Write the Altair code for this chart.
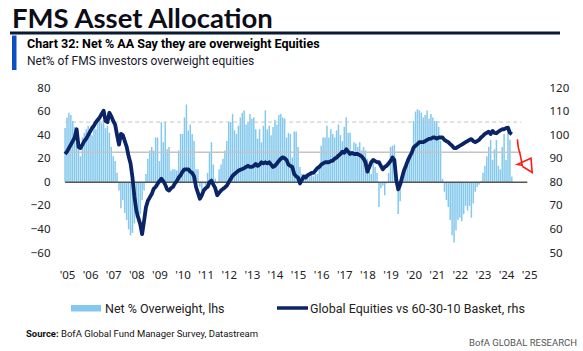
import altair as alt
import pandas as pd

# ---------------- data (monthly, Dec 2004 .. Apr 2024 as positioned on the picture) ----------------
first_year = 2004
first_month = 12

net_overweight = [
    46,                                                     # 2004 Dec
    55, 59, 57, 52, 47, 40, 30, 22, 38, 42, 45, 48,         # 2005
    44, 40, 48, 45, 52, 57, 50, 53, 46, 48, 42, 30,         # 2006
    22, 18, 8, -7, -22, -15, -26, -32, -40, -45, -43, -35,  # 2007
    -30, -34, -27, -15, -7, 7, 20, 27, 30, 27, 38, 38,      # 2008
    18, 51, 34, 51, 28, 30, 10, 11, 11, 10, 27, 41,         # 2009
    41, 55, 66, 44, 49, 41, 35, 11, 11, -4, -7, -1,         # 2010
    -3, 8, 25, 34, 15, 3, -1, 11, 15, 20, 27, 35,           # 2011
    51, 51, 58, 44, 41, 48, 55, 59, 61, 49, 51, 58,         # 2012
    54, 55, 45, 37, 45, 34, 48, 61, 45, 48, 40, 47,         # 2013
    53, 49, 57, 58, 55, 54, 38, 42, 41, 21, 43, 43,         # 2014
    30, 13, 7, 5, 7, 3, 5, 8, 5, 7, 7, 15,                  # 2015
    31, 38, 38, 48, 38, 45, 41, 38, 44, 49, 40, 35,         # 2016
    47, 55, 42, 42, 25, 34, 33, 30, 34, 27, 30, 27,         # 2017
    20, 13, 7, 17, 13, 8, -21, -5, -3, -11, -1, 8,          # 2018
    30, 31, 32, 10, -27, -16, 5, 8, 13, 15, 21, 27,         # 2019
    52, 60, 62, 61, 59, 55, 57, 61, 54, 58, 55, 52,         # 2020
    52, 47, 35, 3, -8, -15, -21, -32, -45, -51, -41, -32,   # 2021
    -30, -33, -27, -20, -24, -20, -30, -18, -8, -4, -2, 1,  # 2022
    8, 14, 22, 30, 36, 19, 28, 36, 14, 11, 30, 41,          # 2023
    19, 44, 36, 5,                                          # 2024
]

equities_vs_basket = [
    92,                                                                     # 2004 Dec
    93, 94.5, 96, 97.5, 99, 102.5, 95, 94.5, 96, 97.5, 98.5, 100,           # 2005
    101.5, 103, 104, 105.5, 106.5, 107.5, 109, 110.4, 106, 105.5, 109.5, 108,  # 2006
    106, 104.5, 100, 96, 100.5, 100, 97.5, 95, 91, 88, 82, 74,              # 2007
    68, 65, 62.3, 58, 63.5, 69.4, 72.2, 73.6, 75, 77.2, 78, 79.3,           # 2008
    80.5, 81.5, 80.5, 79, 77, 76.5, 77.5, 78, 79.5, 80.5, 82, 83,           # 2009
    84.5, 85.5, 85.5, 85.5, 84.5, 84, 82.5, 78, 75.5, 73, 74.5, 76.5,       # 2010
    77.5, 78, 80, 80.7, 79, 77.5, 74.5, 75.5, 76.5, 77.2, 77.8, 78.6,       # 2011
    80, 81.4, 82.8, 83.5, 84.2, 84.9, 85.3, 85.6, 86, 86.5, 87, 86.5,       # 2012
    86.5, 87, 87.8, 87, 87.5, 88.5, 88, 88.5, 88, 88.5, 87.5, 86.5,         # 2013
    87, 88, 89, 90, 90.6, 90.2, 89.5, 87.5, 87, 86.5, 83.5, 82.5,           # 2014
    82, 79.5, 81, 82.5, 82, 83, 83.5, 84, 84, 85, 86, 86.5,                 # 2015
    87.5, 88, 88.5, 88.5, 88.5, 89, 89.2, 90, 90.5, 91.3, 92, 93,           # 2016
    92.5, 94, 93, 92, 92.5, 92, 92, 92, 91.5, 91, 90, 88.5,                 # 2017
    84.5, 86.5, 88.5, 89.5, 89, 88.5, 88.5, 87, 85.5, 86.5, 87, 88,         # 2018
    89, 90.5, 89.5, 81, 77, 79, 82, 85, 87, 89.2, 91, 92.5,                 # 2019
    94.8, 95.5, 96.2, 97, 97, 97, 97.5, 98, 98.4, 98.5, 99, 99,             # 2020
    98.5, 99, 99, 99, 98, 97.5, 97, 96.2, 95.5, 94.5, 94.5, 95,             # 2021
    95.5, 96, 96.5, 97, 97.5, 98, 98.3, 97.5, 97, 97.5, 98, 99,             # 2022
    99.7, 100.5, 101, 101.5, 100.5, 101.8, 101, 100.8, 101.5, 102, 102.5, 102.5,  # 2023
    103, 103.2, 101, 100.4,                                                 # 2024
]

# reference lines on the lhs scale: level, start, end
ref_levels = [0, 25.4, 51.1]
ref_starts = [2004.92, 2004.92, 2004.92]
ref_ends = [2024.92, 2024.66, 2024.66]

# red hand-drawn arrow (decimal year, rhs value)
arrow_x = [2024.49, 2024.53, 2024.62, 2024.70, 2024.49, 2025.08, 2025.13, 2024.70]
arrow_y = [98.2, 94.8, 91.4, 87.2, 87.6, 90.2, 84.2, 86.8]

year_ticks = list(range(2005, 2026))
lhs_ticks = [-60, -40, -20, 0, 20, 40, 60, 80]
rhs_ticks = [50, 60, 70, 80, 90, 100, 110, 120]

# ---------------- layout ----------------
PL, PT = 59, 88           # plot origin in page pixels
W, H = 477, 165
FONT = "Noto Sans"
SMALL = "Roboto"

t0 = first_year + (first_month - 1) / 12
df = pd.DataFrame({
    "t": [t0 + i / 12 for i in range(len(net_overweight))],
    "ow": net_overweight,
    "eq": equities_vs_basket,
})
ref_df = pd.DataFrame({"lvl": ref_levels, "a": ref_starts, "b": ref_ends})
arrow_df = pd.DataFrame({"t": arrow_x, "v": arrow_y, "i": list(range(len(arrow_x)))})

xscale = alt.Scale(domain=[2004.87, 2025.08], nice=False, zero=False)
lscale = alt.Scale(domain=[-60, 80], nice=False, zero=False)
rscale = alt.Scale(domain=[50, 120], nice=False, zero=False)

x_axis = alt.Axis(values=year_ticks, format="d", labelExpr="\"'\" + substring(datum.label, 2)",
                  domain=False, ticks=False, grid=False, labelPadding=16, labelFontSize=11.5,
                  labelFont=FONT, labelColor="#222", title=None, labelFlush=False)
l_axis = alt.Axis(values=lhs_ticks, domain=False, ticks=False, grid=False, orient="left",
                  labelPadding=9, labelFontSize=11.5, labelFont=FONT, labelColor="#222", title=None)
r_axis = alt.Axis(values=rhs_ticks, domain=False, ticks=False, grid=False, orient="right",
                  labelPadding=13, labelFontSize=11.5, labelFont=FONT, labelColor="#222", title=None)

bars = alt.Chart(df).mark_bar(size=1.5, color="#84c9ed").encode(
    x=alt.X("t:Q", scale=xscale, axis=x_axis),
    y=alt.Y("ow:Q", scale=lscale, axis=l_axis),
)


def ref_rule(idx, color, width, dash=None):
    kw = dict(color=color, strokeWidth=width)
    if dash:
        kw["strokeDash"] = dash
    return alt.Chart(ref_df.iloc[[idx]]).mark_rule(**kw).encode(
        x=alt.X("a:Q", scale=xscale, axis=x_axis), x2="b:Q",
        y=alt.Y("lvl:Q", scale=lscale, axis=l_axis))


left = alt.layer(bars, ref_rule(1, "#c4c4c4", 1.5), ref_rule(2, "#c4c4c4", 1, [4, 3]),
                 ref_rule(0, "#555555", 1.6))

line = alt.Chart(df).mark_line(color="#0b2466", strokeWidth=3.8, strokeJoin="round").encode(
    x=alt.X("t:Q", scale=xscale, axis=x_axis),
    y=alt.Y("eq:Q", scale=rscale, axis=r_axis),
)
arrow = alt.Chart(arrow_df).mark_line(color="#ff1a1a", strokeWidth=1.6).encode(
    x=alt.X("t:Q", scale=xscale, axis=x_axis),
    y=alt.Y("v:Q", scale=rscale, axis=r_axis),
    order="i:Q",
)
right = alt.layer(line, arrow)


def label(txt, x, y, size, weight="normal", color="#111", font=FONT, align="left", baseline="alphabetic"):
    return alt.Chart(pd.DataFrame({"s": [txt]})).mark_text(
        align=align, baseline=baseline, fontSize=size, fontWeight=weight, color=color, font=font
    ).encode(x=alt.value(x - PL), y=alt.value(y - PT), text="s:N")


def box(x1, x2, y1, y2, color):
    return alt.Chart(pd.DataFrame({"s": [0]})).mark_rect(color=color).encode(
        x=alt.value(x1 - PL), x2=alt.value(x2 - PL), y=alt.value(y1 - PT), y2=alt.value(y2 - PT))


def hline(x1, x2, y, color, width):
    return alt.Chart(pd.DataFrame({"s": [0]})).mark_rule(color=color, strokeWidth=width).encode(
        x=alt.value(x1 - PL), x2=alt.value(x2 - PL), y=alt.value(y - PT))


decor = [
    label("FMS Asset Allocation", 12, 27.5, 27.5, "bold", "#0d0d18", "Lato"),
    hline(10, 560, 33, "#0b1a33", 3),
    box(12, 16.5, 35.5, 70, "#0a4fc4"),
    label("Chart 32: Net % AA Say they are overweight Equities", 27, 48, 12.5, "bold", "#000", SMALL),
    label("Net% of FMS investors overweight equities", 27, 65, 12, "normal", "#1a1a2e", SMALL),
    box(71, 101, 305, 311.5, "#84c9ed"),
    label("Net % Overweight, lhs", 105, 308.5, 12.5, "normal", "#222", SMALL, baseline="middle"),
    hline(277, 308, 308, "#0b2466", 3.5),
    label("Global Equities vs 60-30-10 Basket, rhs", 310, 308.5, 12.5, "normal", "#222", SMALL, baseline="middle"),
    label("Source:", 26, 334, 9.5, "bold", "#111", SMALL, baseline="middle"),
    label("BofA Global Fund Manager Survey, Datastream", 61, 334, 9.5, "normal", "#111", SMALL, baseline="middle"),
    label("BofA GLOBAL RESEARCH", 577, 343, 9.5, "normal", "#555", SMALL, align="right", baseline="middle"),
]

chart = alt.layer(left, right, *decor).resolve_scale(y="independent").properties(
    width=W, height=H,
    padding={"left": PL, "top": PT, "right": 583 - PL - W, "bottom": 351 - PT - H},
    autosize=alt.AutoSizeParams(type="none"),
    background="white",
).configure_view(stroke=None)

chart.save("out.html", embed_options={"renderer": "svg", "actions": False})
